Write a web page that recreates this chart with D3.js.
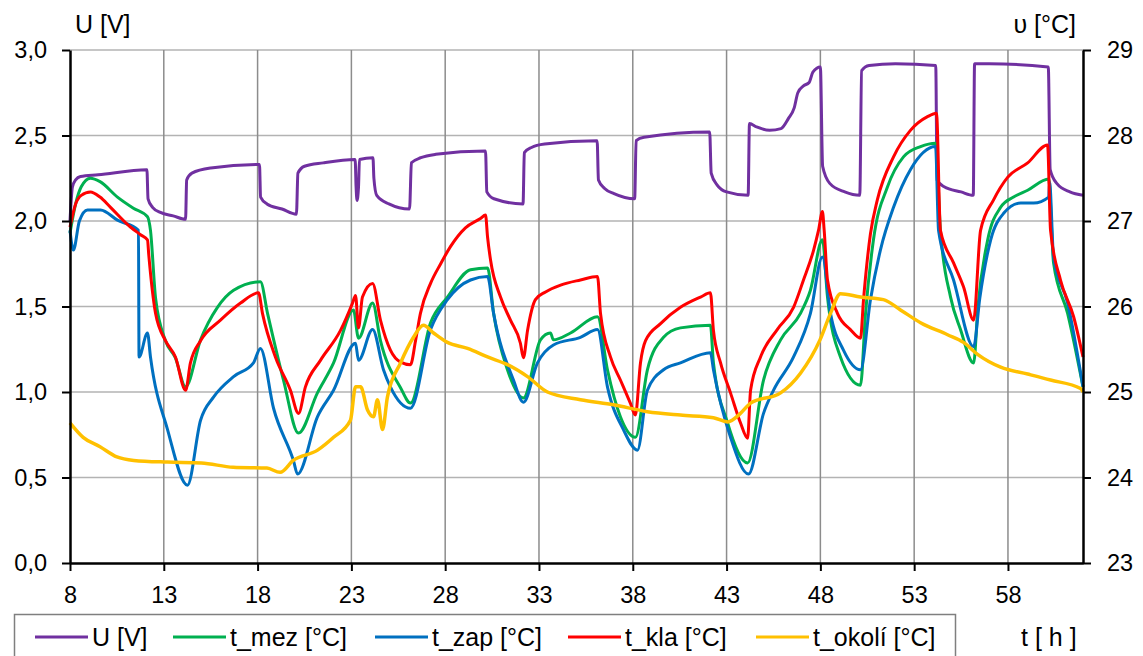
<!DOCTYPE html>
<html>
<head>
<meta charset="utf-8">
<script src="https://cdn.jsdelivr.net/npm/d3@7"></script>
<style>
  body { margin: 0; background: #fff; }
  svg { display: block; font-family: "Liberation Sans", Arial, sans-serif; }
</style>
</head>
<body>
<div id="chart-wrap"></div>
<script>
// x ticks (hours) and axis ranges
const hourTicks = [8, 13, 18, 23, 28, 33, 38, 43, 48, 53, 58];
const voltTicks = [0, 0.5, 1.0, 1.5, 2.0, 2.5, 3.0];
const tempTicks = [23, 24, 25, 26, 27, 28, 29];

// series as [hour, value] pairs
const uVolt = [
  [8.0, 2.0], [8.13, 2.2], [8.3, 2.24], [8.56, 2.26], [9.5, 2.27], [12.1, 2.30], [12.16, 2.13], [12.4, 2.08],
  [12.82, 2.05], [13.5, 2.03], [14.16, 2.01], [14.22, 2.24], [14.5, 2.28], [15.5, 2.31], [18.1, 2.33],
  [18.16, 2.14], [18.5, 2.10], [19.3, 2.07], [20.07, 2.04], [20.15, 2.28], [20.5, 2.32], [21.5, 2.34],
  [23.2, 2.36], [23.25, 2.2], [23.3, 2.12], [23.38, 2.2], [23.43, 2.36], [24.15, 2.37], [24.2, 2.25],
  [24.35, 2.15], [25.0, 2.10], [26.1, 2.07], [26.2, 2.34], [26.7, 2.37], [27.5, 2.39], [30.15, 2.41],
  [30.22, 2.17], [30.6, 2.13], [32.15, 2.10], [32.22, 2.40], [32.6, 2.43], [33.3, 2.45], [36.1, 2.47],
  [36.17, 2.24], [36.5, 2.19], [37.0, 2.16], [38.1, 2.13], [38.18, 2.47], [38.6, 2.49], [42.1, 2.52],
  [42.18, 2.28], [42.5, 2.21], [43.0, 2.17], [44.15, 2.15], [44.22, 2.57], [44.6, 2.55], [45.3, 2.53],
  [45.9, 2.54], [46.3, 2.6], [46.6, 2.66], [46.8, 2.75], [47.1, 2.79], [47.4, 2.81], [47.6, 2.87],
  [48.0, 2.90], [48.12, 2.32], [48.5, 2.22], [49.3, 2.17], [50.1, 2.15], [50.2, 2.88], [50.6, 2.91],
  [52.0, 2.92], [54.15, 2.91], [54.22, 2.24], [54.6, 2.20], [55.5, 2.17], [56.15, 2.15], [56.22, 2.92],
  [57.0, 2.92], [60.15, 2.90], [60.25, 2.30], [60.6, 2.22], [61.3, 2.17], [62.0, 2.15]
];

const tMez = [
  [8.0, 26.86], [8.3, 27.2], [8.6, 27.4], [9.09, 27.5], [9.6, 27.46], [10.53, 27.28], [11.38, 27.15],
  [12.13, 27.05], [12.29, 26.89], [12.56, 26.1], [13.09, 25.6], [13.62, 25.4], [14.16, 25.06],
  [14.96, 25.61], [15.86, 25.99], [16.72, 26.19], [18.15, 26.29], [18.53, 25.92], [19.38, 25.14],
  [20.18, 24.52], [21.19, 24.99], [22.05, 25.34], [23.11, 25.96], [23.38, 25.63], [24.13, 26.04],
  [24.55, 25.6], [25.62, 25.05], [26.15, 24.87], [27.22, 25.81], [28.12, 26.11], [29.35, 26.43],
  [30.26, 26.45], [30.58, 25.92], [31.32, 25.26], [32.17, 24.93], [33.08, 25.61], [33.61, 25.69],
  [33.77, 25.61], [34.68, 25.69], [36.12, 25.88], [36.65, 25.26], [37.34, 24.71], [38.14, 24.47],
  [38.78, 25.26], [39.64, 25.64], [40.54, 25.75], [42.14, 25.78], [42.30, 25.34], [43.05, 24.64],
  [44.12, 24.17], [44.97, 25.14], [45.88, 25.61], [46.94, 25.92], [47.47, 26.19], [48.11, 26.78],
  [48.38, 26.11], [49.07, 25.41], [50.14, 25.08], [50.4, 25.9], [50.83, 26.78], [51.58, 27.4],
  [52.43, 27.75], [53.34, 27.87], [54.14, 27.91], [54.40, 26.89], [54.94, 26.11], [55.47, 25.73],
  [56.17, 25.34], [56.4, 26.0], [56.92, 26.78], [57.61, 27.16], [58.30, 27.28], [59.05, 27.36],
  [60.17, 27.49], [60.43, 26.51], [61.18, 25.92], [62.0, 25.06]
];

const tZap = [
  [8.0, 26.89], [8.18, 26.66], [8.5, 27.0], [8.93, 27.13], [9.63, 27.13], [10.53, 27.01], [11.65, 26.89],
  [11.68, 25.41], [12.13, 25.69], [12.29, 25.41], [13.2, 24.56], [14.26, 23.91], [14.96, 24.67],
  [15.65, 24.94], [16.72, 25.18], [17.78, 25.34], [18.15, 25.51], [18.85, 24.81], [19.91, 24.2],
  [20.13, 24.04], [21.19, 24.71], [22.05, 25.02], [23.22, 25.57], [23.38, 25.37], [24.13, 25.73],
  [24.71, 25.26], [25.08, 25.06], [26.15, 24.81], [27.22, 25.73], [28.12, 26.08], [29.35, 26.31],
  [30.26, 26.35], [30.58, 25.92], [31.64, 25.14], [32.17, 24.88], [32.92, 25.34], [33.77, 25.55],
  [35.21, 25.64], [36.12, 25.73], [36.65, 25.06], [37.50, 24.56], [38.25, 24.32], [38.78, 25.02],
  [39.64, 25.26], [40.54, 25.34], [42.14, 25.46], [42.30, 25.26], [43.21, 24.47], [44.17, 24.04],
  [44.97, 24.75], [45.50, 25.02], [46.57, 25.41], [47.47, 25.92], [48.11, 26.58], [48.54, 25.92],
  [49.23, 25.49], [50.14, 25.26], [50.67, 26.08], [51.2, 26.66], [51.9, 27.16], [52.8, 27.6],
  [54.14, 27.87], [54.30, 26.89], [55.10, 26.31], [56.17, 25.53], [56.5, 26.1], [57.08, 26.78],
  [57.77, 27.09], [58.68, 27.21], [59.37, 27.21], [60.17, 27.28], [60.22, 27.45], [60.43, 26.58],
  [61.18, 26.04], [62.0, 25.06]
];

const tKla = [
  [8.0, 26.93], [8.3, 27.2], [8.6, 27.3], [9.09, 27.34], [9.6, 27.28], [10.16, 27.16], [11.22, 26.93],
  [11.76, 26.84], [12.13, 26.78], [12.2, 26.6], [12.56, 25.92], [13.09, 25.6], [13.62, 25.41],
  [14.16, 25.02], [14.42, 25.34], [14.96, 25.6], [16.02, 25.84], [17.09, 26.04], [18.05, 26.16],
  [18.26, 25.92], [18.95, 25.41], [19.75, 25.02], [20.18, 24.75], [20.55, 25.06], [21.35, 25.37],
  [22.42, 25.72], [23.06, 26.04], [23.22, 26.13], [23.38, 25.75], [23.59, 26.11], [24.13, 26.27],
  [24.55, 25.84], [25.08, 25.49], [25.62, 25.35], [26.15, 25.32], [26.42, 25.6], [26.68, 25.92],
  [27.22, 26.27], [27.76, 26.5], [28.28, 26.7], [29.08, 26.92], [29.88, 27.03], [30.15, 27.07],
  [30.26, 26.81], [30.42, 26.54], [30.95, 26.11], [31.48, 25.84], [32.01, 25.57], [32.17, 25.4],
  [32.39, 25.72], [32.81, 26.08], [33.35, 26.17], [34.15, 26.25], [35.21, 26.31], [36.12, 26.35],
  [36.28, 25.92], [36.81, 25.41], [37.34, 25.14], [37.87, 24.87], [38.14, 24.73], [38.41, 25.34],
  [38.68, 25.6], [39.48, 25.8], [40.54, 25.99], [41.61, 26.11], [42.14, 26.16], [42.30, 25.72],
  [42.68, 25.34], [43.21, 24.99], [43.74, 24.64], [44.12, 24.46], [44.28, 25.02], [44.81, 25.41],
  [45.7, 25.73], [46.57, 25.99], [47.1, 26.31], [47.64, 26.66], [47.9, 26.89], [48.11, 27.11],
  [48.2, 26.9], [48.38, 26.31], [48.91, 25.92], [49.6, 25.73], [50.14, 25.63], [50.3, 26.08],
  [50.67, 26.85], [51.04, 27.25], [51.9, 27.75], [52.8, 28.06], [53.71, 28.22], [54.19, 28.26],
  [54.4, 26.89], [55.1, 26.51], [55.63, 26.23], [56.17, 25.84], [56.54, 26.89], [57.24, 27.25],
  [57.98, 27.51], [59.05, 27.68], [60.11, 27.89], [60.27, 26.89], [60.8, 26.31], [61.5, 25.88],
  [62.0, 25.41]
];

const tOkoli = [
  [8.0, 24.64], [8.7, 24.47], [9.6, 24.36], [10.5, 24.24], [11.4, 24.2], [13.2, 24.18], [15.0, 24.17],
  [16.7, 24.12], [18.5, 24.11], [19.2, 24.06], [19.9, 24.2], [21.2, 24.32], [22.05, 24.47],
  [22.95, 24.67], [23.22, 25.06], [23.49, 25.06], [23.86, 24.79], [24.18, 24.71], [24.39, 24.91],
  [24.66, 24.56], [24.92, 24.94], [25.62, 25.34], [26.31, 25.64], [26.84, 25.78], [27.38, 25.69],
  [28.12, 25.58], [29.19, 25.51], [30.26, 25.41], [31.32, 25.32], [32.39, 25.18], [33.45, 25.0],
  [35.21, 24.91], [36.97, 24.85], [38.78, 24.77], [40.54, 24.73], [42.3, 24.70], [43.05, 24.65],
  [43.74, 24.75], [44.28, 24.87], [45.88, 24.99], [46.94, 25.22], [47.98, 25.61], [48.54, 25.92],
  [49.07, 26.15], [50.14, 26.11], [51.36, 26.08], [52.27, 25.96], [53.34, 25.81], [54.78, 25.67],
  [55.63, 25.58], [56.38, 25.44], [57.61, 25.29], [59.05, 25.21], [60.27, 25.14], [61.87, 25.04],
  [62.0, 25.0]
];

const seriesNames = ['U [V]', 't_mez [°C]', 't_zap [°C]', 't_kla [°C]', 't_okolí [°C]'];
const seriesColors = ['#7030A0', '#00B050', '#0070C0', '#FF0000', '#FFC000'];

const width = 1143;
const height = 656;
const margin = { top: 50, right: 60, bottom: 93, left: 70 };

const svg = d3.select('#chart-wrap').append('svg')
  .attr('width', width)
  .attr('height', height);

const x = d3.scaleLinear().domain([8, 62]).range([margin.left, width - margin.right]);
const yU = d3.scaleLinear().domain([0, 3]).range([height - margin.bottom, margin.top]);
const yT = d3.scaleLinear().domain([23, 29]).range([height - margin.bottom, margin.top]);

// grid
svg.append('g')
  .selectAll('line')
  .data(voltTicks.slice(1))
  .enter().append('line')
  .attr('x1', margin.left).attr('x2', width - margin.right)
  .attr('y1', d => yU(d)).attr('y2', d => yU(d))
  .attr('stroke', '#b3b3b3').attr('stroke-width', 1.5);

svg.append('g')
  .selectAll('line')
  .data(hourTicks.slice(1))
  .enter().append('line')
  .attr('x1', d => x(d)).attr('x2', d => x(d))
  .attr('y1', margin.top).attr('y2', height - margin.bottom)
  .attr('stroke', '#8c8c8c').attr('stroke-width', 1.5);

// lines
const lineU = d3.line().x(d => x(d[0])).y(d => yU(d[1])).curve(d3.curveMonotoneX);
const lineT = d3.line().x(d => x(d[0])).y(d => yT(d[1])).curve(d3.curveMonotoneX);

const plotData = [
  { data: uVolt, line: lineU },
  { data: tMez, line: lineT },
  { data: tZap, line: lineT },
  { data: tKla, line: lineT },
  { data: tOkoli, line: lineT }
];

svg.append('g')
  .selectAll('path')
  .data(plotData)
  .enter().append('path')
  .attr('d', d => d.line(d.data))
  .attr('fill', 'none')
  .attr('stroke', (d, i) => seriesColors[i])
  .attr('stroke-width', (d, i) => i === 4 ? 3.5 : 3)
  .attr('stroke-linejoin', 'round');

// axes
const fmtComma = v => d3.format('.1f')(v).replace('.', ',');

const styleAxis = g => {
  g.select('.domain').attr('stroke', '#000').attr('stroke-width', 2.5);
  g.selectAll('.tick line').attr('stroke', '#000').attr('stroke-width', 2);
  g.selectAll('.tick text').attr('fill', '#000').style('font-size', '23.5px')
    .style('font-family', '"Liberation Sans", Arial, sans-serif');
};

svg.append('g')
  .attr('transform', `translate(${margin.left},0)`)
  .call(d3.axisLeft(yU).tickValues(voltTicks).tickFormat(fmtComma).tickSize(8).tickSizeOuter(0).tickPadding(15))
  .call(styleAxis);

svg.append('g')
  .attr('transform', `translate(${width - margin.right},0)`)
  .call(d3.axisRight(yT).tickValues(tempTicks).tickFormat(d3.format('d')).tickSize(8).tickSizeOuter(0).tickPadding(16))
  .call(styleAxis);

svg.append('g')
  .attr('transform', `translate(0,${height - margin.bottom})`)
  .call(d3.axisBottom(x).tickValues(hourTicks).tickFormat(d3.format('d')).tickSize(8).tickSizeOuter(0).tickPadding(15))
  .call(styleAxis);

// axis titles
svg.append('text').attr('x', 75).attr('y', 33).style('font-size', '25px').text('U [V]');
svg.append('text').attr('x', 1076).attr('y', 33).attr('text-anchor', 'end').style('font-size', '25px').text('υ [°C]');
svg.append('text').attr('x', 1021).attr('y', 646).style('font-size', '25px').text('t [ h ]');

// legend
const legend = svg.append('g');
legend.append('rect')
  .attr('x', 14.5).attr('y', 614.5).attr('width', 941).attr('height', 60)
  .attr('fill', '#fff').attr('stroke', '#7f7f7f').attr('stroke-width', 1.5);

const legendX = [35, 173, 375, 568, 756];
const items = legend.selectAll('.legend-item')
  .data(seriesNames)
  .enter().append('g')
  .attr('class', 'legend-item')
  .attr('transform', (d, i) => `translate(${legendX[i]},637)`);

items.append('line')
  .attr('x1', 0).attr('x2', 53).attr('y1', 0).attr('y2', 0)
  .attr('stroke', (d, i) => seriesColors[i]).attr('stroke-width', 3);

items.append('text')
  .attr('x', 57).attr('y', 9)
  .style('font-size', '25px')
  .text(d => d);
</script>
</body>
</html>
